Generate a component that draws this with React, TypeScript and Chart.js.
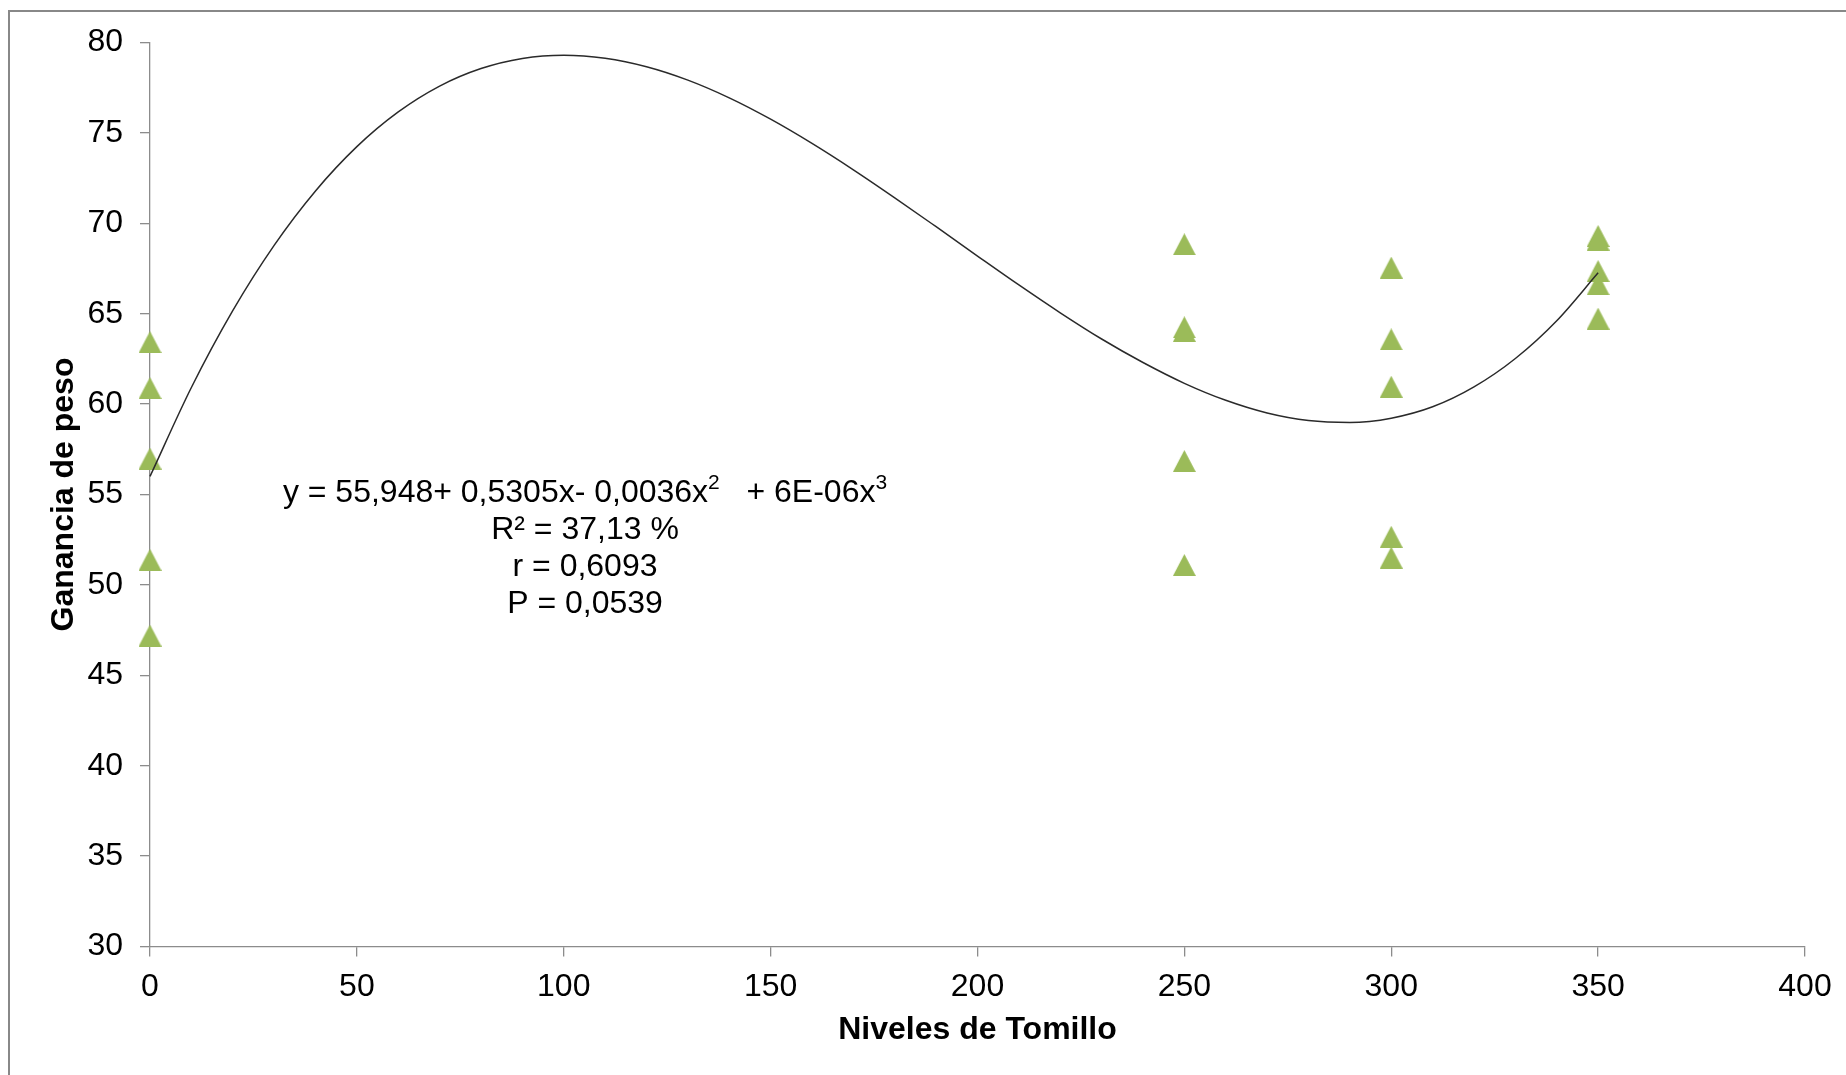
import React, { useEffect, useRef } from 'react';
import { Chart, registerables } from 'chart.js';

Chart.register(...registerables);

// ---- data ----
const nivelesTomillo = [0, 0, 0, 0, 0, 250, 250, 250, 250, 250, 300, 300, 300, 300, 300, 350, 350, 350, 350, 350];
const gananciaPeso = [63.43, 60.89, 56.99, 51.39, 47.2, 68.84, 64.25, 64.05, 56.85, 51.1, 67.55, 63.58, 60.96, 52.66, 51.51, 69.3, 69.1, 67.36, 66.63, 64.73];

// trend line (cubic)
const curveX = [0, 10, 20, 30, 40, 50, 60, 70, 80, 90, 100, 110, 120, 130, 140, 150, 160, 170, 180, 190, 200, 210, 220, 230, 240, 250, 260, 270, 280, 290, 300, 310, 320, 330, 340, 350];
const curveY = [56.0, 60.92, 65.17, 68.78, 71.79, 74.24, 76.16, 77.59, 78.56, 79.12, 79.3, 79.13, 78.66, 77.92, 76.94, 75.76, 74.42, 72.96, 71.41, 69.81, 68.19, 66.59, 65.05, 63.6, 62.3, 61.15, 60.21, 59.51, 59.09, 58.98, 59.22, 59.85, 60.95, 62.52, 64.61, 67.26];

const xAxis = { min: 0, max: 400, step: 50, title: 'Niveles de Tomillo' };
const yAxis = { min: 30, max: 80, step: 5, title: 'Ganancia de peso' };

const equationMain = ['y = 55,948+ 0,5305x- 0,0036x', '2', '   + 6E-06x', '3'];
const statLines = ['R² = 37,13 %', 'r = 0,6093', 'P = 0,0539'];

const FONT = '"Liberation Sans", Arial, Helvetica, sans-serif';
const FS = 32;

function makeTriangle(): HTMLCanvasElement {
  const c = document.createElement('canvas');
  c.width = 23;
  c.height = 22;
  const g = c.getContext('2d')!;
  g.fillStyle = '#9BBB59';
  g.beginPath();
  g.moveTo(11.5, 0);
  g.lineTo(23, 22);
  g.lineTo(0, 22);
  g.closePath();
  g.fill();
  return c;
}

const framePlugin = {
  id: 'frame',
  beforeDraw(chart: any) {
    const ctx = chart.ctx;
    ctx.save();
    ctx.fillStyle = '#ffffff';
    ctx.fillRect(0, 0, chart.width, chart.height);
    ctx.strokeStyle = '#888888';
    ctx.lineWidth = 2;
    ctx.strokeRect(9, 11, chart.width + 50, chart.height + 50);
    ctx.restore();
  },
};

const equationPlugin = {
  id: 'equation',
  afterDraw(chart: any) {
    const ctx = chart.ctx;
    const cx = 585;
    const main = `${FS}px ${FONT}`;
    const sup = `21px ${FONT}`;
    ctx.save();
    ctx.fillStyle = '#000';
    ctx.textBaseline = 'middle';
    ctx.textAlign = 'left';
    let total = 0;
    const widths = equationMain.map((t, i) => {
      ctx.font = i % 2 === 1 ? sup : main;
      const w = ctx.measureText(t).width;
      total += w;
      return w;
    });
    let x = cx - total / 2;
    const y0 = 493;
    equationMain.forEach((t, i) => {
      const isSup = i % 2 === 1;
      ctx.font = isSup ? sup : main;
      ctx.fillText(t, x, isSup ? y0 - 10 : y0);
      x += widths[i];
    });
    ctx.textAlign = 'center';
    ctx.font = main;
    statLines.forEach((t, i) => {
      ctx.fillText(t, cx, 530 + i * 37);
    });
    ctx.restore();
  },
};

export default function App() {
  const ref = useRef<HTMLCanvasElement | null>(null);

  useEffect(() => {
    if (!ref.current) return;
    const tri = makeTriangle();
    const axisColor = '#8c8c8c';
    const chart = new Chart(ref.current, {
      type: 'scatter',
      data: {
        datasets: [
          {
            label: 'Tendencia',
            data: curveX.map((x, i) => ({ x, y: curveY[i] })),
            showLine: true,
            borderColor: '#2a2a2a',
            borderWidth: 1.5,
            pointRadius: 0,
            cubicInterpolationMode: 'monotone',
            order: 0,
            clip: false as any,
          } as any,
          {
            label: 'Ganancia de peso',
            data: nivelesTomillo.map((x, i) => ({ x, y: gananciaPeso[i] })),
            pointStyle: tri as any,
            pointRadius: 12,
            backgroundColor: '#9BBB59',
            borderColor: '#9BBB59',
            order: 1,
            clip: false as any,
          } as any,
        ],
      },
      options: {
        responsive: false,
        animation: false,
        layout: { padding: { left: 0, top: 42.5, right: 41, bottom: 0 } },
        plugins: {
          legend: { display: false },
          tooltip: { enabled: false },
        },
        scales: {
          x: {
            type: 'linear',
            min: xAxis.min,
            max: xAxis.max,
            ticks: {
              stepSize: xAxis.step,
              color: '#000',
              font: { family: FONT, size: FS },
              padding: 11,
              maxRotation: 0,
            },
            grid: {
              drawOnChartArea: false,
              drawTicks: true,
              tickLength: 10,
              color: axisColor,
              lineWidth: 1.3,
            },
            border: { display: true, color: axisColor, width: 1.3 },
            title: {
              display: true,
              text: xAxis.title,
              color: '#000',
              font: { family: FONT, size: FS, weight: 'bold' },
              padding: { top: 0, bottom: 26 },
            },
            afterFit: (s: any) => {
              s.height = 128.5;
            },
          },
          y: {
            type: 'linear',
            min: yAxis.min,
            max: yAxis.max,
            ticks: {
              stepSize: yAxis.step,
              color: '#000',
              font: { family: FONT, size: FS },
              padding: 17,
            },
            grid: {
              drawOnChartArea: false,
              drawTicks: true,
              tickLength: 10,
              color: axisColor,
              lineWidth: 1.3,
            },
            border: { display: true, color: axisColor, width: 1.3 },
            title: {
              display: true,
              text: yAxis.title,
              color: '#000',
              font: { family: FONT, size: FS, weight: 'bold' },
              padding: { top: 44.5, bottom: 0 },
            },
            afterFit: (s: any) => {
              s.width = 150;
            },
          },
        },
      },
      plugins: [framePlugin, equationPlugin],
    });
    return () => chart.destroy();
  }, []);

  return (
    <div style={{ position: 'absolute', left: 0, top: 0, width: 1846, height: 1075, background: '#fff' }}>
      <canvas ref={ref} width={1846} height={1075} style={{ display: 'block' }} />
    </div>
  );
}
